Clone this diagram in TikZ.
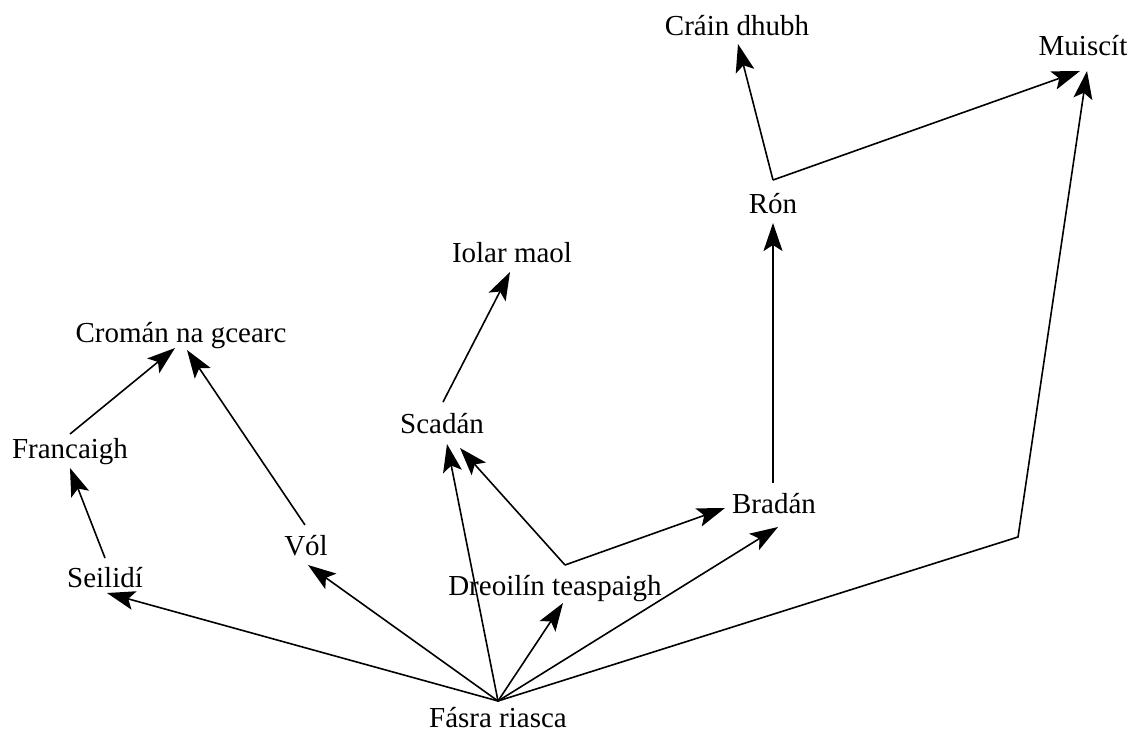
\documentclass[tikz,border=0pt]{standalone}
\usepackage{fontspec}
\setmainfont{Liberation Serif}
\usetikzlibrary{arrows.meta,calc}
\begin{document}
\begin{tikzpicture}[x=1pt,y=-1pt,
  lbl/.style={anchor=base, inner sep=0pt, font=\fontsize{29}{34}\selectfont},
  arr/.style={-{Stealth[length=28pt,width=19pt,inset=6pt]}, line width=1.6pt, line join=miter}]
\path[use as bounding box] (0,0) rectangle (1132,731);
\node[lbl] (cdh)  at (737,35)  {Cráin dhubh};
\node[lbl] (mus)  at (1083,55) {Muiscít};
\node[lbl] (ron)  at (773,213) {Rón};
\node[lbl] (iol)  at (512,262) {Iolar maol};
\node[lbl] (crom) at (181,342) {Cromán na gcearc};
\node[lbl] (scad) at (442,433) {Scadán};
\node[lbl] (fran) at (70,458)  {Francaigh};
\node[lbl] (brad) at (774,513) {Bradán};
\node[lbl] (vol)  at (306,555) {Vól};
\node[lbl] (seil) at (105,587) {Seilidí};
\node[lbl] (dreo) at (555,595) {Dreoilín teaspaigh};
\node[lbl] (fas)  at (498,727) {Fásra riasca};
\coordinate (bend) at (1018,537);
% from Fasra riasca
\draw[arr] ($(fas.base)+(0,-26)$) -- ($(seil.base)+(2,6)$);
\draw[arr] ($(fas.base)+(0,-26)$) -- ($(vol.base)+(2,10)$);
\draw[arr] ($(fas.base)+(0,-26)$) -- ($(scad.base)+(5,11)$);
\draw[arr] ($(fas.base)+(0,-26)$) -- ($(dreo.base)+(8,8)$);
\draw[arr] ($(fas.base)+(0,-26)$) -- ($(brad.base)+(4,14)$);
\draw[arr] ($(fas.base)+(0,-26)$) -- (bend) -- ($(mus.base)+(4,16)$);
% others
\draw[arr] ($(seil.base)+(0,-29)$) -- ($(fran.base)+(0,10)$);
\draw[arr] ($(fran.base)+(0,-24)$) -- ($(crom.base)+(-6,6)$);
\draw[arr] ($(vol.base)+(-1,-30)$) -- ($(crom.base)+(6,8)$);
\draw[arr] ($(dreo.base)+(10,-30)$) -- ($(scad.base)+(18,15)$);
\draw[arr] ($(dreo.base)+(10,-30)$) -- ($(brad.base)+(-49,-5)$);
\draw[arr] ($(scad.base)+(1,-31)$) -- ($(iol.base)+(-2,10)$);
\draw[arr] ($(brad.base)+(-1,-30)$) -- ($(ron.base)+(0,10)$);
\draw[arr] ($(ron.base)+(0,-33)$) -- ($(cdh.base)+(1,9)$);
\draw[arr] ($(ron.base)+(0,-33)$) -- ($(mus.base)+(-3,16)$);
\end{tikzpicture}
\end{document}
